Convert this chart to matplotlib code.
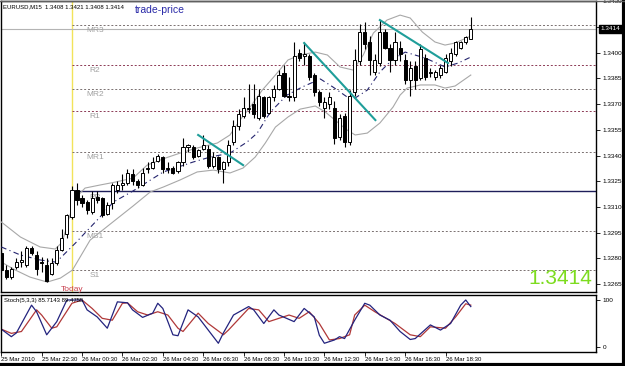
import numpy as np
import matplotlib.pyplot as plt
from matplotlib.lines import Line2D

plt.rcParams['font.family'] = ['Liberation Sans', 'DejaVu Sans']

# EURUSD M15 candles, 25 Mar 20:30 -> 26 Mar 19:45
opens = [1.3283, 1.3273, 1.3269, 1.3275, 1.3278, 1.3276, 1.3286, 1.3282, 1.3278, 1.3276,
         1.3271, 1.3277, 1.3285, 1.3294, 1.3304, 1.3320, 1.3315, 1.3313, 1.3307, 1.3316,
         1.3315, 1.3306, 1.3312, 1.3320, 1.3323, 1.3324, 1.3329, 1.3325, 1.3323, 1.3332,
         1.3333, 1.3337, 1.3339, 1.3333, 1.3333, 1.3331, 1.3336, 1.3345, 1.3345, 1.3340,
         1.3344, 1.3344, 1.3334, 1.3339, 1.3332, 1.3336, 1.3348, 1.3357, 1.3363, 1.3367,
         1.3370, 1.3362, 1.3374, 1.3365, 1.3374, 1.3379, 1.3388, 1.3375, 1.3374, 1.3400,
         1.3398, 1.3398, 1.3387, 1.3377, 1.3368, 1.3370, 1.3368, 1.3351, 1.3363, 1.3348,
         1.3377, 1.3395, 1.3412, 1.3406, 1.3389, 1.3394, 1.3412, 1.3403, 1.3396, 1.3403,
         1.3396, 1.3384, 1.3392, 1.3385, 1.3397, 1.3388, 1.3386, 1.3387, 1.3389, 1.3395,
         1.3399, 1.3403, 1.3406, 1.3408]
highs = [1.3285, 1.3276, 1.3275, 1.3280, 1.3284, 1.3287, 1.3287, 1.3284, 1.3281, 1.3280,
         1.3280, 1.3287, 1.3297, 1.3306, 1.3322, 1.3324, 1.3317, 1.3314, 1.3319, 1.3319,
         1.3316, 1.3313, 1.3324, 1.3325, 1.3329, 1.3332, 1.3332, 1.3326, 1.3333, 1.3336,
         1.3339, 1.3341, 1.3340, 1.3336, 1.3334, 1.3337, 1.3350, 1.3347, 1.3346, 1.3344,
         1.3352, 1.3346, 1.3342, 1.3340, 1.3337, 1.3349, 1.3361, 1.3367, 1.3374, 1.3382,
         1.3382, 1.3379, 1.3375, 1.3375, 1.3381, 1.3390, 1.3393, 1.3386, 1.3406, 1.3402,
         1.3406, 1.3399, 1.3388, 1.3378, 1.3374, 1.3377, 1.3372, 1.3364, 1.3365, 1.3378,
         1.3402, 1.3417, 1.3418, 1.3410, 1.3399, 1.3419, 1.3414, 1.3405, 1.3412, 1.3407,
         1.3399, 1.3395, 1.3395, 1.3405, 1.3399, 1.3391, 1.3390, 1.3393, 1.3399, 1.3403,
         1.3407, 1.3407, 1.3410, 1.3421]
lows = [1.3272, 1.3268, 1.3268, 1.3274, 1.3275, 1.3275, 1.3282, 1.3270, 1.3272, 1.3266,
        1.3270, 1.3276, 1.3284, 1.3292, 1.3303, 1.3311, 1.3310, 1.3306, 1.3306, 1.3312,
        1.3304, 1.3305, 1.3309, 1.3318, 1.3320, 1.3323, 1.3323, 1.3321, 1.3322, 1.3330,
        1.3332, 1.3336, 1.3330, 1.3330, 1.3329, 1.3330, 1.3334, 1.3342, 1.3338, 1.3339,
        1.3343, 1.3333, 1.3333, 1.3330, 1.3324, 1.3334, 1.3346, 1.3355, 1.3362, 1.3365,
        1.3362, 1.3361, 1.3362, 1.3364, 1.3372, 1.3378, 1.3374, 1.3372, 1.3372, 1.3395,
        1.3393, 1.3384, 1.3375, 1.3369, 1.3362, 1.3367, 1.3347, 1.3349, 1.3345, 1.3346,
        1.3375, 1.3393, 1.3402, 1.3387, 1.3387, 1.3392, 1.3402, 1.3389, 1.3393, 1.3395,
        1.3382, 1.3375, 1.3379, 1.3384, 1.3384, 1.3386, 1.3384, 1.3385, 1.3388, 1.3392,
        1.3398, 1.3402, 1.3405, 1.3408]
closes = [1.3273, 1.3269, 1.3274, 1.3278, 1.3279, 1.3286, 1.3283, 1.3274, 1.3277, 1.3267,
          1.3277, 1.3285, 1.3292, 1.3305, 1.3320, 1.3314, 1.3312, 1.3308, 1.3315, 1.3314,
          1.3305, 1.3311, 1.3323, 1.3323, 1.3324, 1.3330, 1.3325, 1.3323, 1.3330, 1.3333,
          1.3336, 1.3340, 1.3332, 1.3332, 1.3330, 1.3336, 1.3345, 1.3346, 1.3339, 1.3343,
          1.3346, 1.3334, 1.3339, 1.3332, 1.3336, 1.3346, 1.3357, 1.3364, 1.3368, 1.3368,
          1.3364, 1.3375, 1.3363, 1.3374, 1.3379, 1.3387, 1.3375, 1.3374, 1.3398, 1.3397,
          1.3399, 1.3386, 1.3377, 1.3371, 1.3371, 1.3374, 1.3350, 1.3362, 1.3348, 1.3375,
          1.3396, 1.3412, 1.3405, 1.3396, 1.3396, 1.3412, 1.3403, 1.3396, 1.3406, 1.3399,
          1.3384, 1.3391, 1.3384, 1.3402, 1.3386, 1.3389, 1.3389, 1.3391, 1.3397, 1.3400,
          1.3406, 1.3406, 1.3409, 1.3414]

# Bollinger bands and middle line (bar index, price)
upper_idx = [0, 3.8, 7.7, 10.7, 12.1, 13.3, 14.7, 16.6, 19.6, 22.6, 26.1, 28.9, 32.5, 35.4,
             38.8, 42.8, 45.3, 47.3, 49.3, 51.7, 54.3, 56.8, 59.2, 62.2, 64.6, 67.1, 69.7,
             71.7, 73.7, 76.4, 79.0, 81.0, 83.4, 85.9, 87.9, 89.9, 93.0]
upper_px = [1.33012, 1.32924, 1.32866, 1.32854, 1.32895, 1.33023, 1.33152, 1.33210, 1.33228,
            1.33245, 1.33268, 1.33344, 1.33385, 1.33414, 1.33444, 1.33473, 1.33520, 1.33607,
            1.33683, 1.33782, 1.33870, 1.33958, 1.33987, 1.34004, 1.33987, 1.33917, 1.33899,
            1.33987, 1.34115, 1.34191, 1.34220, 1.34203, 1.34121, 1.34063, 1.34045, 1.34057,
            1.34098]
lower_idx = [0, 2.8, 5.7, 9.1, 11.7, 14.1, 17.6, 21.6, 26.1, 29.5, 32.1, 35.4, 38.8, 42.0,
             45.3, 47.9, 50.3, 52.3, 54.3, 56.8, 59.2, 62.2, 64.2, 66.1, 68.5, 70.1, 72.5,
             75.0, 77.6, 79.0, 80.4, 83.0, 85.9, 87.9, 89.9, 93.0]
lower_px = [1.32778, 1.32731, 1.32690, 1.32661, 1.32684, 1.32731, 1.32906, 1.33000, 1.33105,
            1.33187, 1.33216, 1.33257, 1.33304, 1.33315, 1.33298, 1.33327, 1.33391, 1.33473,
            1.33566, 1.33625, 1.33671, 1.33689, 1.33654, 1.33607, 1.33549, 1.33520, 1.33531,
            1.33590, 1.33683, 1.33753, 1.33794, 1.33812, 1.33812, 1.33794, 1.33806, 1.33870]
ma_idx = [0, 3.8, 7.7, 10.7, 11.7, 14.7, 19.0, 22.2, 26.1, 32.1, 38.0, 41.4, 45.3, 48.7,
          50.7, 53.3, 56.6, 59.6, 63.2, 65.7, 68.5, 70.1, 72.5, 75.0, 77.4, 80.0, 84.0,
          87.9, 90.5, 93.0]
ma_px = [1.32866, 1.32819, 1.32790, 1.32778, 1.32801, 1.32889, 1.33023, 1.33128, 1.33193,
         1.33304, 1.33362, 1.33391, 1.33414, 1.33479, 1.33531, 1.33654, 1.33753, 1.33800,
         1.33847, 1.33800, 1.33742, 1.33736, 1.33782, 1.33888, 1.33958, 1.34004, 1.33969,
         1.33917, 1.33940, 1.33975]

# hand drawn trend lines (bar index, price)
trend_lines = [((39.0, 1.33520), (47.9, 1.33344)),
               ((60.0, 1.34057), (74.1, 1.33607)),
               ((75.0, 1.34191), (88.5, 1.33940))]

# pivot levels for 26 Mar
level_names = ['MR3', 'R2', 'MR2', 'R1', 'MR1', 'PP', 'MS1', 'S1']
level_values = [1.3416, 1.3393, 1.3379, 1.3366, 1.3342, 1.3319, 1.3296, 1.3273]

# stochastic (5,3,3)
k_idx = [0, 2, 3, 6, 7, 9, 11, 13, 14, 16, 17, 19, 21, 23, 25, 26, 28, 30, 31, 32, 34, 35,
         37, 39, 41, 43, 44, 46, 49, 50, 52, 54, 55, 58, 60, 62, 63, 64, 66, 67, 68, 70, 72,
         73, 75, 77, 79, 81, 82, 85, 87, 89, 91, 92, 93]
k_val = [38, 22, 30, 89, 75, 26, 54, 100, 100, 100, 79, 64, 40, 96, 94, 79, 63, 72, 93, 82,
         26, 24, 79, 64, 36, 8, 30, 68, 86, 79, 50, 79, 68, 54, 82, 64, 25, 8, 15, 22, 18,
         57, 93, 89, 68, 57, 33, 16, 18, 47, 36, 50, 89, 100, 86]
d_idx = [0, 2, 4, 7, 8, 10, 11, 14, 16, 18, 20, 22, 24, 25, 27, 29, 31, 33, 35, 36, 39, 41,
         44, 45, 49, 51, 53, 57, 59, 61, 63, 65, 67, 69, 70, 72, 74, 78, 81, 83, 85, 88, 90,
         92, 93]
d_val = [38, 29, 33, 79, 68, 40, 43, 93, 100, 82, 61, 57, 93, 94, 75, 68, 75, 68, 40, 33,
         72, 50, 26, 36, 82, 79, 54, 68, 61, 75, 50, 15, 18, 26, 68, 89, 75, 50, 26, 22, 43,
         40, 64, 92, 89]

time_idx = [0, 8, 16, 24, 32, 40, 48, 56, 64, 72, 80, 88]
time_labels = ['25 Mar 2010', '25 Mar 22:30', '26 Mar 00:30', '26 Mar 02:30', '26 Mar 04:30',
               '26 Mar 06:30', '26 Mar 08:30', '26 Mar 10:30', '26 Mar 12:30', '26 Mar 14:30',
               '26 Mar 16:30', '26 Mar 18:30']
price_ticks = [1.3265, 1.3280, 1.3295, 1.3310, 1.3325, 1.3340, 1.3355, 1.3370, 1.3385,
               1.3400, 1.3415, 1.3430]
today_idx = 14
last_price = 1.3414

W, H = 625, 366
fig = plt.figure(figsize=(W / 100, H / 100), dpi=100)
ax = fig.add_axes([1 / W, (H - 292) / H, 595 / W, (292 - 1.4) / H])
ax2 = fig.add_axes([1 / W, (H - 352) / H, 595 / W, (352 - 295) / H])

xmax = 117.8
n = np.arange(len(opens))
o, h, l, c = map(np.array, (opens, highs, lows, closes))
up = c >= o

# candles
ax.vlines(n, l, h, color='black', lw=0.8, zorder=4)
ax.bar(n, np.abs(c - o), bottom=np.minimum(o, c), width=0.62,
       color=np.where(up, 'white', 'black'), edgecolor='black', linewidth=0.7, zorder=5)

# bands
ax.plot(upper_idx, upper_px, color='#a8a8a8', lw=0.8, zorder=3)
ax.plot(lower_idx, lower_px, color='#a8a8a8', lw=0.8, zorder=3)
ax.plot(ma_idx, ma_px, color='#24246e', lw=0.8, ls=(0, (5, 3, 1, 3)), zorder=3)

for (x0, y0), (x1, y1) in trend_lines:
    ax.plot([x0, x1], [y0, y1], color='#1f9e9a', lw=1.5, zorder=6)

# today marker and pivots
ax.axvline(today_idx, color='#f2e35a', lw=1.0, zorder=1)
ax.axhline(last_price, color='#b4b4b4', lw=0.8, zorder=1)
for name, val in zip(level_names, level_values):
    if name == 'PP':
        ax.hlines(val, today_idx, xmax, color='#1e1e5a', lw=1.0, zorder=2)
    elif name in ('R1', 'R2'):
        ax.hlines(val, today_idx, xmax, color='#8c3a55', lw=0.7, ls=(0, (2, 2)), zorder=2)
    else:
        ax.hlines(val, today_idx, xmax, color='#7a7070', lw=0.7, ls=(0, (2, 2)), zorder=2)
    ax.annotate(name, (18.6, val), xytext=(0, -4), textcoords='offset points',
                ha='center', va='center', fontsize=6, color='#a0a0a0', zorder=2)

ax.text(today_idx, 1.3262, 'Today', ha='center', va='center', fontsize=6, color='#c8404e')
ax.text(117.0, 1.32680, '1.3414', ha='right', va='center', fontsize=15, color='#7ddc1f')

ax.set_xlim(-0.05, xmax)
ax.set_ylim(1.32603, 1.3430)
ax.set_xticks([])
ax.yaxis.tick_right()
ax.set_yticks(price_ticks)
# the 1.3415 label sits under the bid box
ax.set_yticklabels(['' if abs(p - last_price) < 0.0002 else '%.4f' % p for p in price_ticks])
ax.tick_params(axis='y', labelsize=4.6, length=3, pad=2, width=0.6)
ax.annotate('%.4f' % last_price, xy=(1, last_price), xycoords=('axes fraction', 'data'),
            xytext=(3, 0), textcoords='offset points', ha='left', va='center', fontsize=4.6,
            color='white', bbox=dict(boxstyle='square,pad=0.25', fc='black', ec='black'),
            annotation_clip=False)
for s in ax.spines.values():
    s.set_color('black')
    s.set_linewidth(1.0)

# stochastic panel
ax2.plot(d_idx, d_val, color='#b03838', lw=0.9)
ax2.plot(k_idx, k_val, color='#23237e', lw=0.9)
ax2.set_xlim(-0.05, xmax)
ax2.set_ylim(-10.6, 110.6)
ax2.yaxis.tick_right()
ax2.set_yticks([0, 100])
ax2.set_yticklabels(['0', '100'])
ax2.tick_params(axis='y', labelsize=4.6, length=3, pad=2, width=0.6)
ax2.set_xticks(time_idx)
ax2.set_xticklabels(time_labels, ha='left')
ax2.tick_params(axis='x', labelsize=4.3, length=3, pad=0.5, width=0.6)
ax2.text(0.005, 0.91, 'Stoch(5,3,3) 85.7143 89.4755', transform=ax2.transAxes,
         fontsize=4.3, va='center', ha='left')
for s in ax2.spines.values():
    s.set_color('black')
    s.set_linewidth(1.0)

# header texts
fig.text(3 / W, 1 - 7 / H, 'EURUSD,M15  1.3408 1.3421 1.3408 1.3414', fontsize=4.3,
         ha='left', va='center')
fig.text(135 / W, 1 - 10 / H, 'trade-price', fontsize=7.5, color='#2a2aa8',
         ha='left', va='center')

# window frame
fig.add_artist(Line2D([0, 1], [1.5 / H, 1.5 / H], color='black', lw=3))
fig.add_artist(Line2D([1 - 1.5 / W, 1 - 1.5 / W], [0, 1], color='black', lw=3))
fig.add_artist(Line2D([0, 1], [1 - 0.5 / H, 1 - 0.5 / H], color='#606060', lw=1))

fig.savefig('out.png', dpi=100)
